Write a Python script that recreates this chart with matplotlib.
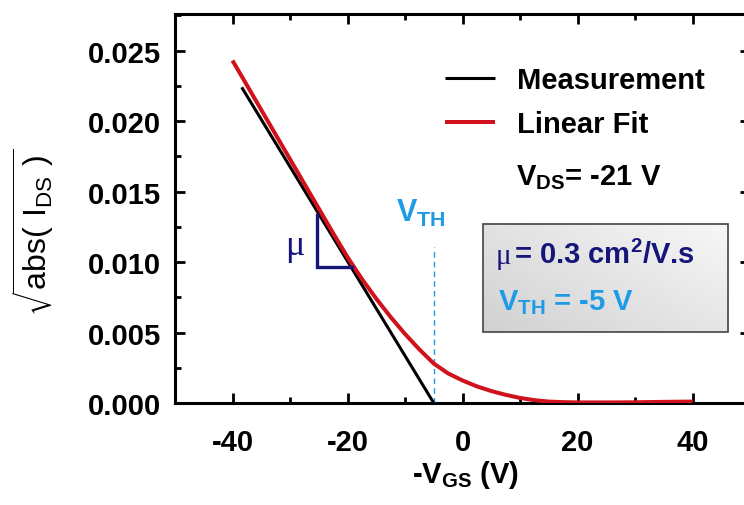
import matplotlib
matplotlib.use('Agg')
import matplotlib.pyplot as plt
from matplotlib.ticker import MultipleLocator, FormatStrFormatter
import numpy as np

plt.rcParams['font.family'] = ['Liberation Sans', 'DejaVu Sans']
plt.rcParams['mathtext.default'] = 'regular'
plt.rcParams['axes.unicode_minus'] = False

# ---- data ----
meas_x = [-38.4, -5.0]
meas_y = [0.0224, 0.0]

fit_x = [-40, -35, -30, -25, -22.5, -20, -17.5, -15, -12.5, -10, -7.5, -5, -2.5,
         0, 2.5, 5, 7.5, 10, 12.5, 15, 17.5, 20, 25, 30, 35, 40]
fit_y = [0.0243, 0.0208, 0.0173, 0.0138, 0.01205, 0.01035, 0.0088, 0.0074, 0.0061,
         0.0049, 0.0038, 0.0028, 0.0021, 0.0016, 0.00118, 0.00085, 0.00058,
         0.00036, 0.0002, 0.0001, 0.00006, 0.00004, 0.00004, 0.00005, 0.00008,
         0.0001]

vth_value = -5.0
vth_line_top = 0.0111

tri_x = [-25.3, -25.3, -19.2]
tri_y = [0.01333, 0.00967, 0.00967]

box_x = [3.55, 46.2]
box_y = [0.00502, 0.0127]

x_ticks = [-40, -20, 0, 20, 40]
y_ticks = [0.000, 0.005, 0.010, 0.015, 0.020, 0.025]

navy = '#16167a'
sky = '#1e9be6'
red = '#d0121c'

fig = plt.figure(figsize=(7.44, 5.06), dpi=100)
ax = fig.add_axes([175/744, 102/506, 575/744, 389/506])

ax.plot(meas_x, meas_y, color='black', lw=2.2, label='Measurement', zorder=4,
        solid_capstyle='butt')
ax.plot(fit_x, fit_y, color=red, lw=2.9, label='Linear Fit', zorder=5,
        solid_capstyle='butt', solid_joinstyle='round')

# threshold marker
ax.plot([vth_value, vth_value], [0, vth_line_top], color=sky, lw=1.0,
        dashes=(4, 3), zorder=3)
ax.text(-11.6, 0.0129, r'V$_{TH}$', color=sky, fontsize=22, fontweight='bold',
        ha='left', va='baseline')

# mobility triangle
ax.plot(tri_x, tri_y, color=navy, lw=2.4, solid_joinstyle='miter', zorder=6)
ax.text(-29.2, 0.0112, '\u03bc', family='Liberation Serif', color=navy,
        fontsize=26, ha='center', va='center')

# gradient box
grad = np.linspace(0, 1, 64)
gx, gy = np.meshgrid(grad, grad)
g = 0.82 + 0.15 * (0.55 * gx + 0.45 * gy)
img = np.dstack([g, g, g])
ax.imshow(img, extent=[box_x[0], box_x[1], box_y[0], box_y[1]], origin='lower',
          aspect='auto', zorder=2, interpolation='bilinear')
ax.add_patch(plt.Rectangle((box_x[0], box_y[0]), box_x[1]-box_x[0], box_y[1]-box_y[0],
                           fill=False, edgecolor='#444444', lw=1.2, zorder=3))
ax.text(5.8, 0.0099, '\u03bc', family='Liberation Serif', color=navy,
        fontsize=21, ha='left', va='baseline', zorder=7)
ax.text(9.0, 0.0099, r'= 0.3 cm$^{2}$/V.s', color=navy, fontsize=21,
        fontweight='bold', ha='left', va='baseline', zorder=7)
ax.text(6.1, 0.00667, r'V$_{TH}$ = -5 V', color=sky, fontsize=21,
        fontweight='bold', ha='left', va='baseline', zorder=7)

ax.text(9.36, 0.01554, r'V$_{DS}$= -21 V', color='black', fontsize=21,
        fontweight='bold', ha='left', va='baseline')

leg = ax.legend(loc='upper left', bbox_to_anchor=(0.4696, 0.866), frameon=False,
                borderaxespad=0, borderpad=0, handlelength=1.71, handletextpad=0.75,
                labelspacing=0.56, prop={'weight': 'bold', 'size': 21})

ax.set_xlim(-50, 50)
ax.set_ylim(0, 0.0276)
ax.set_xticks(x_ticks)
ax.set_yticks(y_ticks)
ax.xaxis.set_minor_locator(MultipleLocator(10))
ax.yaxis.set_minor_locator(MultipleLocator(0.0025))
ax.yaxis.set_major_formatter(FormatStrFormatter('%.3f'))
ax.tick_params(which='both', direction='in', top=True, right=True, width=2.0)
ax.tick_params(which='major', length=7.5)
ax.tick_params(which='minor', length=4.5)
ax.tick_params(axis='y', pad=10, labelsize=21)
ax.tick_params(axis='x', pad=18, labelsize=21)
for lab in ax.get_xticklabels() + ax.get_yticklabels():
    lab.set_fontweight('bold')
for sp in ax.spines.values():
    sp.set_linewidth(2.2)

fig.text(466/744, 1 - 483/506, r'-V$_{GS}$ (V)', fontsize=21, fontweight='bold',
         ha='center', va='baseline')
fig.text(34/744, 1 - 232/506, r'$\sqrt{abs(\ I_{DS}\ )}$', fontsize=23,
         rotation=90, ha='center', va='center')

fig.savefig('out.png', dpi=100)
